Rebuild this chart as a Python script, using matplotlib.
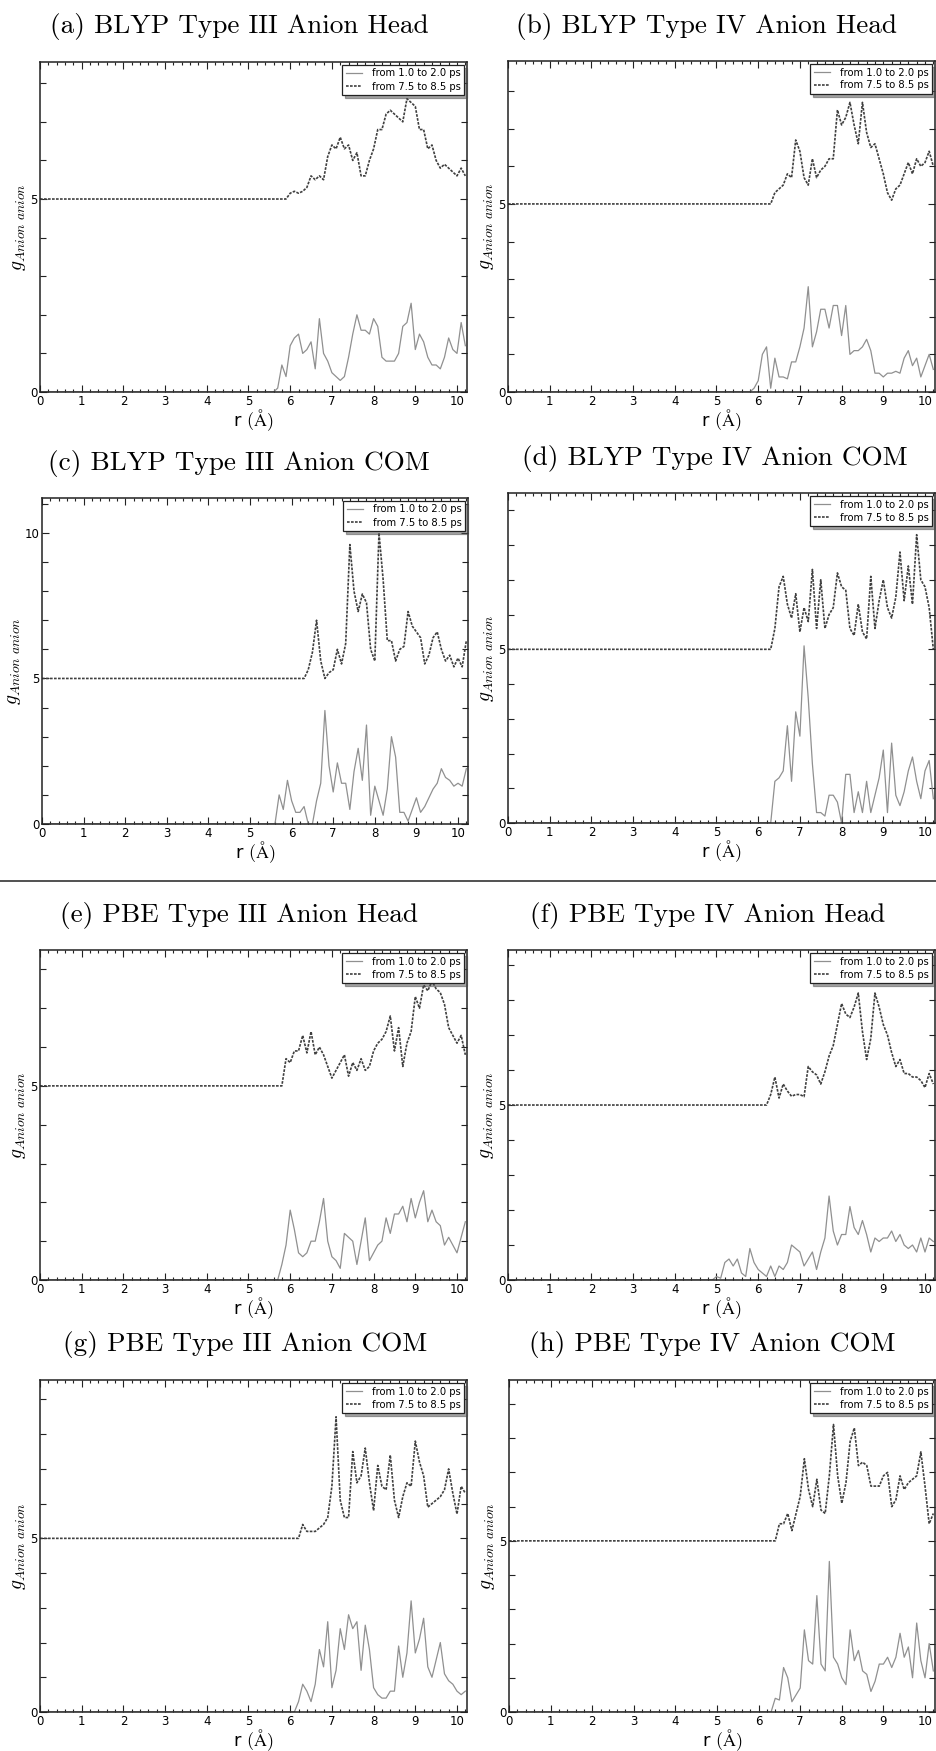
import numpy as np
import matplotlib
matplotlib.use("Agg")
import matplotlib.pyplot as plt
from matplotlib.lines import Line2D
from matplotlib.ticker import MultipleLocator

plt.rcParams["mathtext.fontset"] = "cm"
plt.rcParams["font.family"] = ["DejaVu Sans"]

W, H = 937, 1751

TITLES = [
    "(a) BLYP Type III Anion Head", "(b) BLYP Type IV Anion Head",
    "(c) BLYP Type III Anion COM", "(d) BLYP Type IV Anion COM",
    "(e) PBE Type III Anion Head", "(f) PBE Type IV Anion Head",
    "(g) PBE Type III Anion COM", "(h) PBE Type IV Anion COM",
]
LABELS = ["from 1.0 to 2.0 ps", "from 7.5 to 8.5 ps"]

# g(r) sampled every 0.1 A from the first non-zero r; zero before that.
# the later window is drawn shifted up by 5.
R_STEP = 0.1
SHIFT = 5.0
SOLID_START = [5.6, 5.8, 5.6, 6.3, 5.7, 4.9, 6.1, 6.3]
DASHED_START = [5.9, 6.3, 6.3, 6.3, 5.8, 6.2, 6.2, 6.4]

SOLID_A = [0.0, 0.1, 0.7, 0.4, 1.2, 1.4, 1.5, 1.0, 1.1, 1.3,
           0.6, 1.9, 1.0, 0.8, 0.5, 0.4, 0.3, 0.4, 0.9, 1.5,
           2.0, 1.6, 1.6, 1.5, 1.9, 1.7, 0.9, 0.8, 0.8, 0.8,
           1.0, 1.7, 1.8, 2.3, 1.1, 1.5, 1.3, 0.9, 0.7, 0.7,
           0.6, 0.9, 1.4, 1.1, 1.0, 1.8, 1.2]
DASHED_A = [0.0, 0.15, 0.2, 0.15, 0.2, 0.3, 0.6, 0.5, 0.6, 0.5,
            1.1, 1.4, 1.3, 1.6, 1.3, 1.4, 1.0, 1.2, 0.6, 0.6,
            1.0, 1.3, 1.8, 1.8, 2.2, 2.3, 2.2, 2.1, 2.0, 2.6,
            2.5, 2.4, 1.8, 1.8, 1.3, 1.4, 1.0, 0.8, 0.9, 0.8,
            0.7, 0.6, 0.8, 0.6]
SOLID_B = [0.0, 0.1, 0.3, 1.0, 1.2, 0.1, 0.9, 0.4, 0.4, 0.35,
           0.8, 0.8, 1.2, 1.7, 2.8, 1.2, 1.6, 2.2, 2.2, 1.7,
           2.3, 2.3, 1.5, 2.3, 1.0, 1.1, 1.1, 1.2, 1.4, 1.1,
           0.5, 0.5, 0.4, 0.5, 0.5, 0.55, 0.5, 0.9, 1.1, 0.7,
           0.9, 0.4, 0.7, 1.0, 0.6]
DASHED_B = [0.0, 0.3, 0.4, 0.5, 0.8, 0.7, 1.7, 1.4, 0.7, 0.5,
            1.2, 0.7, 0.9, 1.0, 1.2, 1.2, 2.5, 2.1, 2.3, 2.7,
            2.1, 1.6, 2.7, 1.9, 1.5, 1.6, 1.2, 0.8, 0.3, 0.1,
            0.4, 0.5, 0.8, 1.1, 0.8, 1.2, 1.0, 1.1, 1.4, 1.0]
SOLID_C = [0.0, 1.0, 0.5, 1.5, 0.8, 0.4, 0.4, 0.6, 0.0, 0.0,
           0.8, 1.4, 3.9, 2.0, 1.1, 2.1, 1.4, 1.4, 0.5, 1.8,
           2.6, 1.5, 3.4, 0.3, 1.3, 0.8, 0.3, 1.2, 3.0, 2.3,
           0.4, 0.4, 0.1, 0.5, 0.9, 0.4, 0.6, 0.9, 1.2, 1.4,
           1.9, 1.6, 1.5, 1.3, 1.4, 1.3, 1.9]
DASHED_C = [0.0, 0.3, 0.9, 2.0, 0.6, 0.0, 0.2, 0.3, 1.0, 0.5,
            1.2, 4.6, 3.0, 2.3, 2.9, 2.6, 1.0, 0.6, 5.0, 3.4,
            1.3, 1.3, 0.6, 1.0, 1.1, 2.3, 1.8, 1.6, 1.4, 0.5,
            0.8, 1.4, 1.6, 1.0, 0.6, 0.8, 0.4, 0.7, 0.4, 1.3]
SOLID_D = [0.0, 1.2, 1.3, 1.5, 2.8, 1.2, 3.2, 2.5, 5.1, 3.6,
           1.7, 0.3, 0.3, 0.2, 0.8, 0.8, 0.6, 0.0, 1.4, 1.4,
           0.3, 0.9, 0.3, 1.2, 0.3, 0.8, 1.3, 2.1, 0.3, 2.3,
           0.8, 0.5, 0.9, 1.5, 1.9, 1.2, 0.7, 1.5, 1.8, 0.7]
DASHED_D = [0.0, 0.6, 1.8, 2.1, 1.3, 0.9, 1.6, 0.5, 1.2, 0.8,
            2.3, 0.6, 2.0, 0.6, 1.0, 1.2, 2.2, 1.8, 1.7, 0.6,
            0.4, 1.3, 0.5, 0.3, 2.1, 0.6, 1.4, 2.0, 1.2, 0.9,
            1.5, 2.8, 1.4, 2.4, 1.3, 3.3, 2.0, 1.8, 1.2, 0.0]
SOLID_E = [0.0, 0.4, 0.9, 1.8, 1.3, 0.7, 0.6, 0.7, 1.0, 1.0,
           1.5, 2.1, 1.0, 0.6, 0.5, 0.3, 1.2, 1.1, 1.0, 0.4,
           1.0, 1.6, 0.5, 0.7, 0.9, 1.0, 1.6, 1.2, 1.7, 1.7,
           1.9, 1.5, 2.1, 1.6, 2.0, 2.3, 1.5, 1.8, 1.5, 1.4,
           0.9, 1.1, 0.9, 0.7, 1.1, 1.5]
DASHED_E = [0.0, 0.7, 0.6, 0.9, 0.9, 1.3, 0.85, 1.4, 0.8, 1.0,
            0.8, 0.5, 0.2, 0.4, 0.6, 0.8, 0.25, 0.6, 0.4, 0.7,
            0.4, 0.5, 0.9, 1.1, 1.2, 1.4, 1.8, 0.9, 1.5, 0.5,
            1.1, 1.4, 2.3, 2.0, 2.6, 2.45, 2.7, 2.5, 2.4, 2.1,
            1.5, 1.3, 1.1, 1.3, 0.8]
SOLID_F = [0.0, 0.1, 0.05, 0.5, 0.6, 0.4, 0.6, 0.2, 0.1, 0.9,
           0.5, 0.3, 0.2, 0.1, 0.4, 0.1, 0.4, 0.3, 0.5, 1.0,
           0.9, 0.8, 0.4, 0.6, 0.8, 0.3, 0.8, 1.2, 2.4, 1.4,
           1.0, 1.3, 1.3, 2.1, 1.5, 1.3, 1.7, 1.3, 0.8, 1.2,
           1.1, 1.2, 1.2, 1.4, 1.1, 1.3, 1.0, 0.9, 1.0, 0.8,
           1.2, 0.8, 1.2, 1.1]
DASHED_F = [0.0, 0.3, 0.8, 0.2, 0.6, 0.4, 0.25, 0.3, 0.3, 0.24,
            1.1, 0.95, 0.86, 0.6, 0.95, 1.4, 1.7, 2.3, 2.9, 2.6,
            2.5, 2.8, 3.2, 2.1, 1.3, 1.9, 3.2, 2.8, 2.3, 2.0,
            1.5, 1.1, 1.3, 0.9, 0.9, 0.8, 0.8, 0.7, 0.5, 0.9,
            0.6]
SOLID_G = [0.0, 0.3, 0.8, 0.6, 0.3, 0.8, 1.8, 1.3, 2.6, 0.7,
           1.2, 2.4, 1.8, 2.8, 2.4, 2.6, 1.2, 2.5, 1.8, 0.7,
           0.5, 0.4, 0.4, 0.6, 0.6, 1.9, 1.0, 1.7, 3.2, 1.7,
           2.1, 2.7, 1.3, 1.0, 1.5, 2.0, 1.1, 0.9, 0.8, 0.6,
           0.5, 0.6]
DASHED_G = [0.0, 0.4, 0.2, 0.2, 0.2, 0.3, 0.4, 0.6, 1.5, 3.5,
            1.1, 0.6, 0.6, 2.5, 1.6, 1.8, 2.6, 1.6, 0.8, 2.1,
            1.5, 1.4, 2.4, 1.1, 0.6, 1.2, 1.6, 1.5, 2.8, 2.2,
            1.8, 0.9, 1.0, 1.1, 1.2, 1.4, 2.0, 1.3, 0.7, 1.5,
            1.3]
SOLID_H = [0.0, 0.4, 0.35, 1.3, 1.0, 0.3, 0.5, 0.7, 2.4, 1.5,
           1.4, 3.4, 1.4, 1.2, 4.4, 1.6, 1.4, 1.0, 0.8, 2.4,
           1.5, 1.8, 1.2, 1.1, 0.6, 0.9, 1.4, 1.4, 1.6, 1.3,
           1.6, 2.3, 1.6, 1.9, 1.0, 2.6, 1.5, 1.0, 2.0, 1.2]
DASHED_H = [0.0, 0.5, 0.5, 0.8, 0.3, 0.8, 1.3, 2.4, 1.5, 1.0,
            1.8, 0.9, 0.8, 1.9, 3.4, 1.9, 1.1, 1.7, 2.9, 3.3,
            2.2, 2.3, 2.2, 1.6, 1.6, 1.6, 1.9, 2.0, 1.0, 1.2,
            1.9, 1.5, 1.7, 1.8, 1.9, 2.6, 1.6, 0.5, 0.8]

SOLID = [SOLID_A, SOLID_B, SOLID_C, SOLID_D, SOLID_E, SOLID_F, SOLID_G, SOLID_H]
DASHED = [DASHED_A, DASHED_B, DASHED_C, DASHED_D, DASHED_E, DASHED_F, DASHED_G, DASHED_H]
Y_MAX = [8.55, 8.8, 11.2, 9.5, 8.5, 9.43, 9.56, 9.7]
X_MAX = 10.24

# axes boxes in pixels: left, top, right, bottom
BOXES = [(40, 62, 467, 392), (508, 61, 935, 392),
         (42, 498, 468, 824), (508, 493, 935, 823),
         (40, 950, 467, 1280), (508, 950, 935, 1280),
         (40, 1380, 467, 1712), (509, 1380, 935, 1712)]
TITLE_X = [239, 707, 239, 715, 239, 708, 245, 712]


def curve(start, vals):
    r = np.concatenate([[0.0], start + R_STEP * np.arange(len(vals))])
    g = np.concatenate([[0.0], np.asarray(vals, dtype=float)])
    return r, g


fig = plt.figure(figsize=(W / 100, H / 100), dpi=100)

for i in range(8):
    l, t, r, b = BOXES[i]
    ax = fig.add_axes([l / W, 1 - b / H, (r - l) / W, (b - t) / H])

    rs, gs = curve(SOLID_START[i], SOLID[i])
    rd, gd = curve(DASHED_START[i], DASHED[i])
    ax.plot(rs, gs, color="#909090", lw=0.9, label=LABELS[0])
    ax.plot(rd, gd + SHIFT, color="#404040", lw=1.2,
            ls=(0, (1.6, 0.8)), label=LABELS[1])

    ax.set_xlim(0, X_MAX)
    ax.set_ylim(0, Y_MAX[i])
    ax.xaxis.set_major_locator(MultipleLocator(1))
    ax.xaxis.set_minor_locator(MultipleLocator(0.2))
    ax.yaxis.set_major_locator(MultipleLocator(5))
    ax.yaxis.set_minor_locator(MultipleLocator(1))
    ax.tick_params(which="both", direction="in", top=True, right=True,
                   labelsize=8.5, pad=2, width=0.8, color="#222222")
    ax.tick_params(which="major", length=5)
    ax.tick_params(axis="x", which="minor", length=2.5)
    ax.tick_params(axis="y", which="minor", length=4)
    for sp in ax.spines.values():
        sp.set_linewidth(1.1)
        sp.set_color("#222222")

    ax.set_xlabel(r"r $\mathrm{(\AA)}$", fontsize=13, labelpad=0)
    ax.set_ylabel(r"$g_{Anion\ anion}$", fontsize=14, labelpad=1)

    leg = ax.legend(loc="upper right", fontsize=7.2, frameon=True,
                    fancybox=False, shadow=True, handlelength=1.6,
                    borderpad=0.35, labelspacing=0.3, handletextpad=1.0,
                    borderaxespad=0.3)
    leg.get_frame().set_edgecolor("#222222")
    leg.get_frame().set_linewidth(0.9)

    fig.text(TITLE_X[i] / W, 1 - (t - 35) / H, TITLES[i],
             family="cmr10", fontsize=19.6, ha="center", va="center")

fig.add_artist(Line2D([0, 1], [1 - 881 / H, 1 - 881 / H],
                      transform=fig.transFigure, color="#333333", lw=1.2))

fig.savefig("out.png", dpi=100)
